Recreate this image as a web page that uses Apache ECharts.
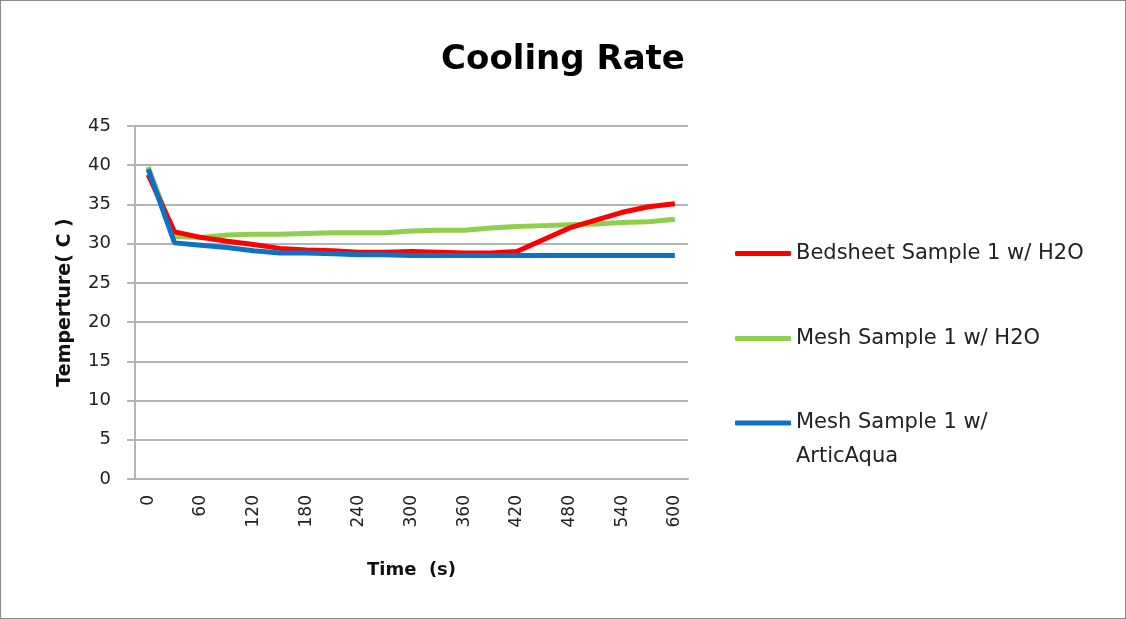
<!DOCTYPE html>
<html>
<head>
<meta charset="utf-8">
<script src="https://cdn.jsdelivr.net/npm/echarts@6/dist/echarts.min.js"></script>
<style>
html,body{margin:0;padding:0;background:#fff;}
#chart{width:1126px;height:619px;box-sizing:border-box;border:1px solid #8a8a8a;}
</style>
</head>
<body>
<div id="chart"></div>
<script>
const titleText = 'Cooling Rate';
const xAxisName = 'Time  (s)';
const yAxisName = 'Temperture( C )';
const timeCategories = ['0','30','60','90','120','150','180','210','240','270','300','330','360','390','420','450','480','510','540','570','600'];
const bedsheetName = 'Bedsheet Sample 1 w/ H2O';
const meshH2OName = 'Mesh Sample 1 w/ H2O';
const meshAquaName = 'Mesh Sample 1 w/ ArticAqua';
const bedsheetH2O = [38.8, 31.5, 30.8, 30.3, 29.9, 29.4, 29.2, 29.1, 28.9, 28.9, 29.0, 28.9, 28.8, 28.8, 29.0, 30.5, 32.0, 33.0, 34.0, 34.7, 35.1];
const meshH2O = [39.8, 30.9, 30.8, 31.1, 31.2, 31.2, 31.3, 31.4, 31.4, 31.4, 31.6, 31.7, 31.7, 32.0, 32.2, 32.3, 32.4, 32.5, 32.7, 32.8, 33.1];
const meshArticAqua = [39.5, 30.1, 29.8, 29.5, 29.1, 28.8, 28.8, 28.7, 28.6, 28.6, 28.5, 28.5, 28.5, 28.5, 28.5, 28.5, 28.5, 28.5, 28.5, 28.5, 28.5];
const yTicks = {min: 0, max: 45, interval: 5};

const FONT = '"DejaVu Sans", "Open Sans", sans-serif';
const chart = echarts.init(document.getElementById('chart'));
const legendText = {fontFamily: FONT, fontSize: 21, color: '#222'};
function legendAt(name, top, extra) {
  return Object.assign({
    data: [name], orient: 'vertical', left: 734, top: top,
    icon: 'roundRect', itemWidth: 56, itemHeight: 5, itemGap: 0, padding: 0,
    textStyle: Object.assign({}, legendText), selectedMode: false
  }, extra || {});
}
chart.setOption({
  animation: false,
  title: {
    text: titleText, left: 557, top: 37, textAlign: 'center',
    textStyle: {fontFamily: FONT, fontSize: 34, fontWeight: 'bold', color: '#000'}
  },
  legend: [
    legendAt(bedsheetName, 242),
    legendAt(meshH2OName, 327),
    legendAt(meshAquaName, 371, {
      formatter: function (n) { return ' \nMesh Sample 1 w/\nArticAqua'; },
      textStyle: Object.assign({}, legendText, {lineHeight: 34})
    })
  ],
  grid: {left: 134, right: 437, top: 125, bottom: 139},
  xAxis: {
    type: 'category', data: timeCategories, boundaryGap: true,
    name: xAxisName, nameLocation: 'middle', nameGap: 82,
    nameTextStyle: {fontFamily: FONT, fontSize: 18, fontWeight: 'bold', color: '#111'},
    axisLine: {lineStyle: {color: '#b4b4b4', width: 2}},
    axisTick: {show: false},
    axisLabel: {interval: 1, rotate: 90, margin: 16, fontFamily: FONT, fontSize: 17, color: '#222'}
  },
  yAxis: {
    type: 'value', min: yTicks.min, max: yTicks.max, interval: yTicks.interval,
    name: yAxisName, nameLocation: 'middle', nameGap: 60, nameRotate: 90,
    nameTextStyle: {fontFamily: FONT, fontSize: 19, fontWeight: 'bold', color: '#111'},
    axisLine: {show: true, lineStyle: {color: '#b4b4b4', width: 2}},
    axisTick: {show: true, length: 8, lineStyle: {color: '#b4b4b4', width: 2}},
    axisLabel: {margin: 24, fontFamily: FONT, fontSize: 18, color: '#222'},
    splitLine: {lineStyle: {color: '#b4b4b4', width: 2}}
  },
  series: [
    {name: meshH2OName, type: 'line', data: meshH2O, symbol: 'none', z: 2,
     lineStyle: {color: '#8dd04c', width: 5}, itemStyle: {color: '#8dd04c'}},
    {name: bedsheetName, type: 'line', data: bedsheetH2O, symbol: 'none', z: 3,
     lineStyle: {color: '#ff0000', width: 5}, itemStyle: {color: '#ff0000'}},
    {name: meshAquaName, type: 'line', data: meshArticAqua, symbol: 'none', z: 4,
     lineStyle: {color: '#0c72c6', width: 5}, itemStyle: {color: '#0c72c6'}}
  ]
});
</script>
</body>
</html>
